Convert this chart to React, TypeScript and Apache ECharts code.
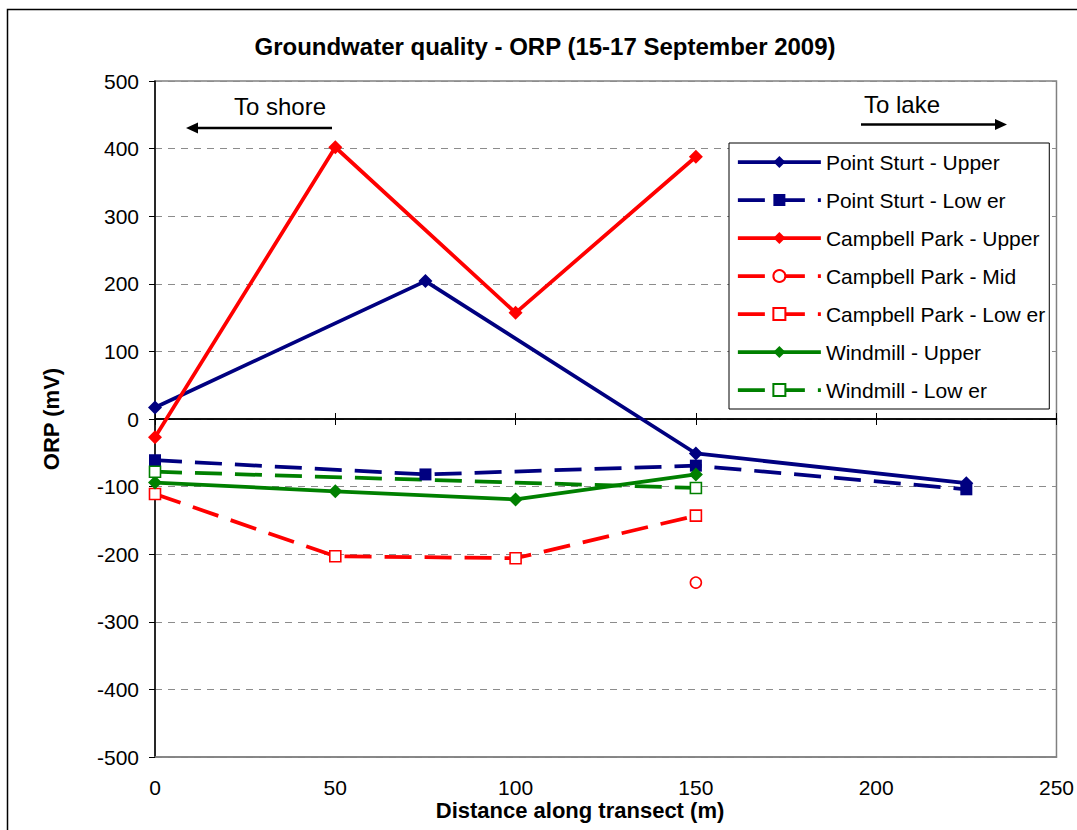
import React, { useEffect, useRef } from "react";
import * as echarts from "echarts";

const FONT = "'Liberation Sans', Arial, sans-serif";

const seriesNames = [
  "Point Sturt - Upper",
  "Point Sturt - Low er",
  "Campbell Park - Upper",
  "Campbell Park - Mid",
  "Campbell Park - Low er",
  "Windmill - Upper",
  "Windmill - Low er",
];

const pointSturtUpper = [[0, 17], [75, 204], [150, -51], [225, -95]];
const pointSturtLower = [[0, -61], [75, -82], [150, -69], [225, -104]];
const campbellUpper = [[0, -27], [50, 402], [100, 157], [150, 388]];
const campbellMid = [[150, -242]];
const campbellLower = [[0, -111], [50, -203], [100, -206], [150, -143]];
const windmillUpper = [[0, -94], [50, -107], [100, -119], [150, -82]];
const windmillLower = [[0, -78], [150, -102]];

const xMin = 0, xMax = 250, xStep = 50;
const yMin = -500, yMax = 500, yStep = 100;

const NAVY = "#000080";
const RED = "#FF0000";
const GREEN = "#008000";

function makeSeries(name: string, data: number[][], color: string, dashed: boolean, symbol: string, filled: boolean, size: number) {
  return {
    type: "line",
    name,
    data,
    xAxisIndex: 0,
    yAxisIndex: 0,
    symbol,
    symbolSize: size,
    showAllSymbol: true,
    lineStyle: { color, width: 3.75, type: dashed ? [27, 13] : "solid" },
    itemStyle: filled
      ? { color, borderColor: color, borderWidth: 0 }
      : { color: "#FFFFFF", borderColor: color, borderWidth: 1.6 },
    emphasis: { disabled: true },
    silent: true,
  };
}

export default function App() {
  const ref = useRef<HTMLDivElement>(null);
  useEffect(() => {
    if (!ref.current) return;
    const chart = echarts.init(ref.current, undefined, { renderer: "svg" });
    const option: any = {
      animation: false,
      backgroundColor: "#FFFFFF",
      grid: {
        left: 155,
        top: 81,
        right: 19,
        bottom: 73,
        show: true,
        borderColor: "#808080",
        borderWidth: 1.5,
        backgroundColor: "transparent",
      },
      xAxis: [
        {
          type: "value",
          min: xMin,
          max: xMax,
          interval: xStep,
          position: "bottom",
          axisLine: { onZero: false, show: true, lineStyle: { color: "#808080", width: 1.5 } },
          axisTick: { show: false },
          axisLabel: { margin: 20, fontSize: 21, color: "#000", fontFamily: FONT },
          splitLine: { show: false },
        },
        {
          type: "value",
          min: xMin,
          max: xMax,
          interval: xStep,
          position: "bottom",
          axisLine: { onZero: true, onZeroAxisIndex: 0, show: true, lineStyle: { color: "#000", width: 1.5 } },
          axisTick: { show: true, inside: false, length: 6, lineStyle: { color: "#000", width: 1 } },
          axisLabel: { show: false },
          splitLine: { show: false },
        },
        {
          type: "value",
          min: xMin,
          max: xMax,
          interval: xStep,
          position: "bottom",
          axisLine: { onZero: true, onZeroAxisIndex: 1, show: true, lineStyle: { color: "#000", width: 1.5 } },
          axisTick: { show: true, inside: true, length: 6, lineStyle: { color: "#000", width: 1 } },
          axisLabel: { show: false },
          splitLine: { show: false },
        },
      ],
      yAxis: [
        {
          type: "value",
          min: yMin,
          max: yMax,
          interval: yStep,
          position: "left",
          axisLine: { onZero: false, show: true, lineStyle: { color: "#000", width: 1.5 } },
          axisTick: { show: true, inside: false, length: 6, lineStyle: { color: "#000", width: 1 } },
          axisLabel: { margin: 16, fontSize: 21, color: "#000", fontFamily: FONT },
          splitLine: { show: true, lineStyle: { color: "#8C8C8C", width: 1, type: [7, 6] } },
        },
        {
          type: "value",
          min: yMin,
          max: yMax,
          interval: yStep,
          position: "right",
          show: false,
        },
      ],
      legend: {
        orient: "vertical",
        left: 729,
        top: 143,
        padding: [7, 4, 7, 7],
        itemWidth: 83,
        itemHeight: 15,
        itemGap: 14,
        borderColor: "#000",
        borderWidth: 1,
        backgroundColor: "#FFFFFF",
        selectedMode: false,
        lineStyle: { width: 3.75 },
        textStyle: { fontSize: 21, fontFamily: FONT, color: "#000", lineHeight: 24 },
        data: seriesNames,
      },
      series: [
        makeSeries(seriesNames[0], pointSturtUpper, NAVY, false, "diamond", true, 14),
        makeSeries(seriesNames[1], pointSturtLower, NAVY, true, "rect", true, 12),
        makeSeries(seriesNames[2], campbellUpper, RED, false, "diamond", true, 14),
        makeSeries(seriesNames[3], campbellMid, RED, true, "circle", false, 11),
        makeSeries(seriesNames[4], campbellLower, RED, true, "rect", false, 11),
        makeSeries(seriesNames[5], windmillUpper, GREEN, false, "diamond", true, 14),
        makeSeries(seriesNames[6], windmillLower, GREEN, true, "rect", false, 11),
      ],
      graphic: [
        {
          type: "rect",
          silent: true,
          z: -10,
          shape: { x: 7.5, y: 9.5, width: 1080, height: 900 },
          style: { fill: "none", stroke: "#000", lineWidth: 1.5 },
        },
        {
          type: "text",
          x: 545,
          y: 46,
          style: {
            text: "Groundwater quality - ORP (15-17 September 2009)",
            fontSize: 24,
            fontWeight: "bold",
            fontFamily: FONT,
            fill: "#000",
            align: "center",
            verticalAlign: "middle",
          },
        },
        {
          type: "text",
          x: 51,
          y: 419,
          rotation: Math.PI / 2,
          style: {
            text: "ORP (mV)",
            fontSize: 22,
            fontWeight: "bold",
            fontFamily: FONT,
            fill: "#000",
            align: "center",
            verticalAlign: "middle",
          },
        },
        {
          type: "text",
          x: 580,
          y: 810,
          style: {
            text: "Distance along transect (m)",
            fontSize: 22,
            fontWeight: "bold",
            fontFamily: FONT,
            fill: "#000",
            align: "center",
            verticalAlign: "middle",
          },
        },
        {
          type: "text",
          x: 280,
          y: 106,
          style: { text: "To shore", fontSize: 24, fontFamily: FONT, fill: "#000", align: "center", verticalAlign: "middle" },
        },
        {
          type: "line",
          shape: { x1: 195, y1: 128, x2: 332, y2: 128 },
          style: { stroke: "#000", lineWidth: 2.5 },
        },
        {
          type: "polygon",
          shape: { points: [[186, 128], [198, 122.5], [198, 133.5]] },
          style: { fill: "#000" },
        },
        {
          type: "text",
          x: 902,
          y: 104,
          style: { text: "To lake", fontSize: 24, fontFamily: FONT, fill: "#000", align: "center", verticalAlign: "middle" },
        },
        {
          type: "line",
          shape: { x1: 861, y1: 124.5, x2: 998, y2: 124.5 },
          style: { stroke: "#000", lineWidth: 2.5 },
        },
        {
          type: "polygon",
          shape: { points: [[1007, 124.5], [995, 119], [995, 130]] },
          style: { fill: "#000" },
        },
      ],
    };
    chart.setOption(option);
    return () => chart.dispose();
  }, []);
  return (
    <div
      ref={ref}
      style={{ position: "fixed", left: 0, top: 0, width: 1077, height: 830, background: "#fff" }}
    />
  );
}
